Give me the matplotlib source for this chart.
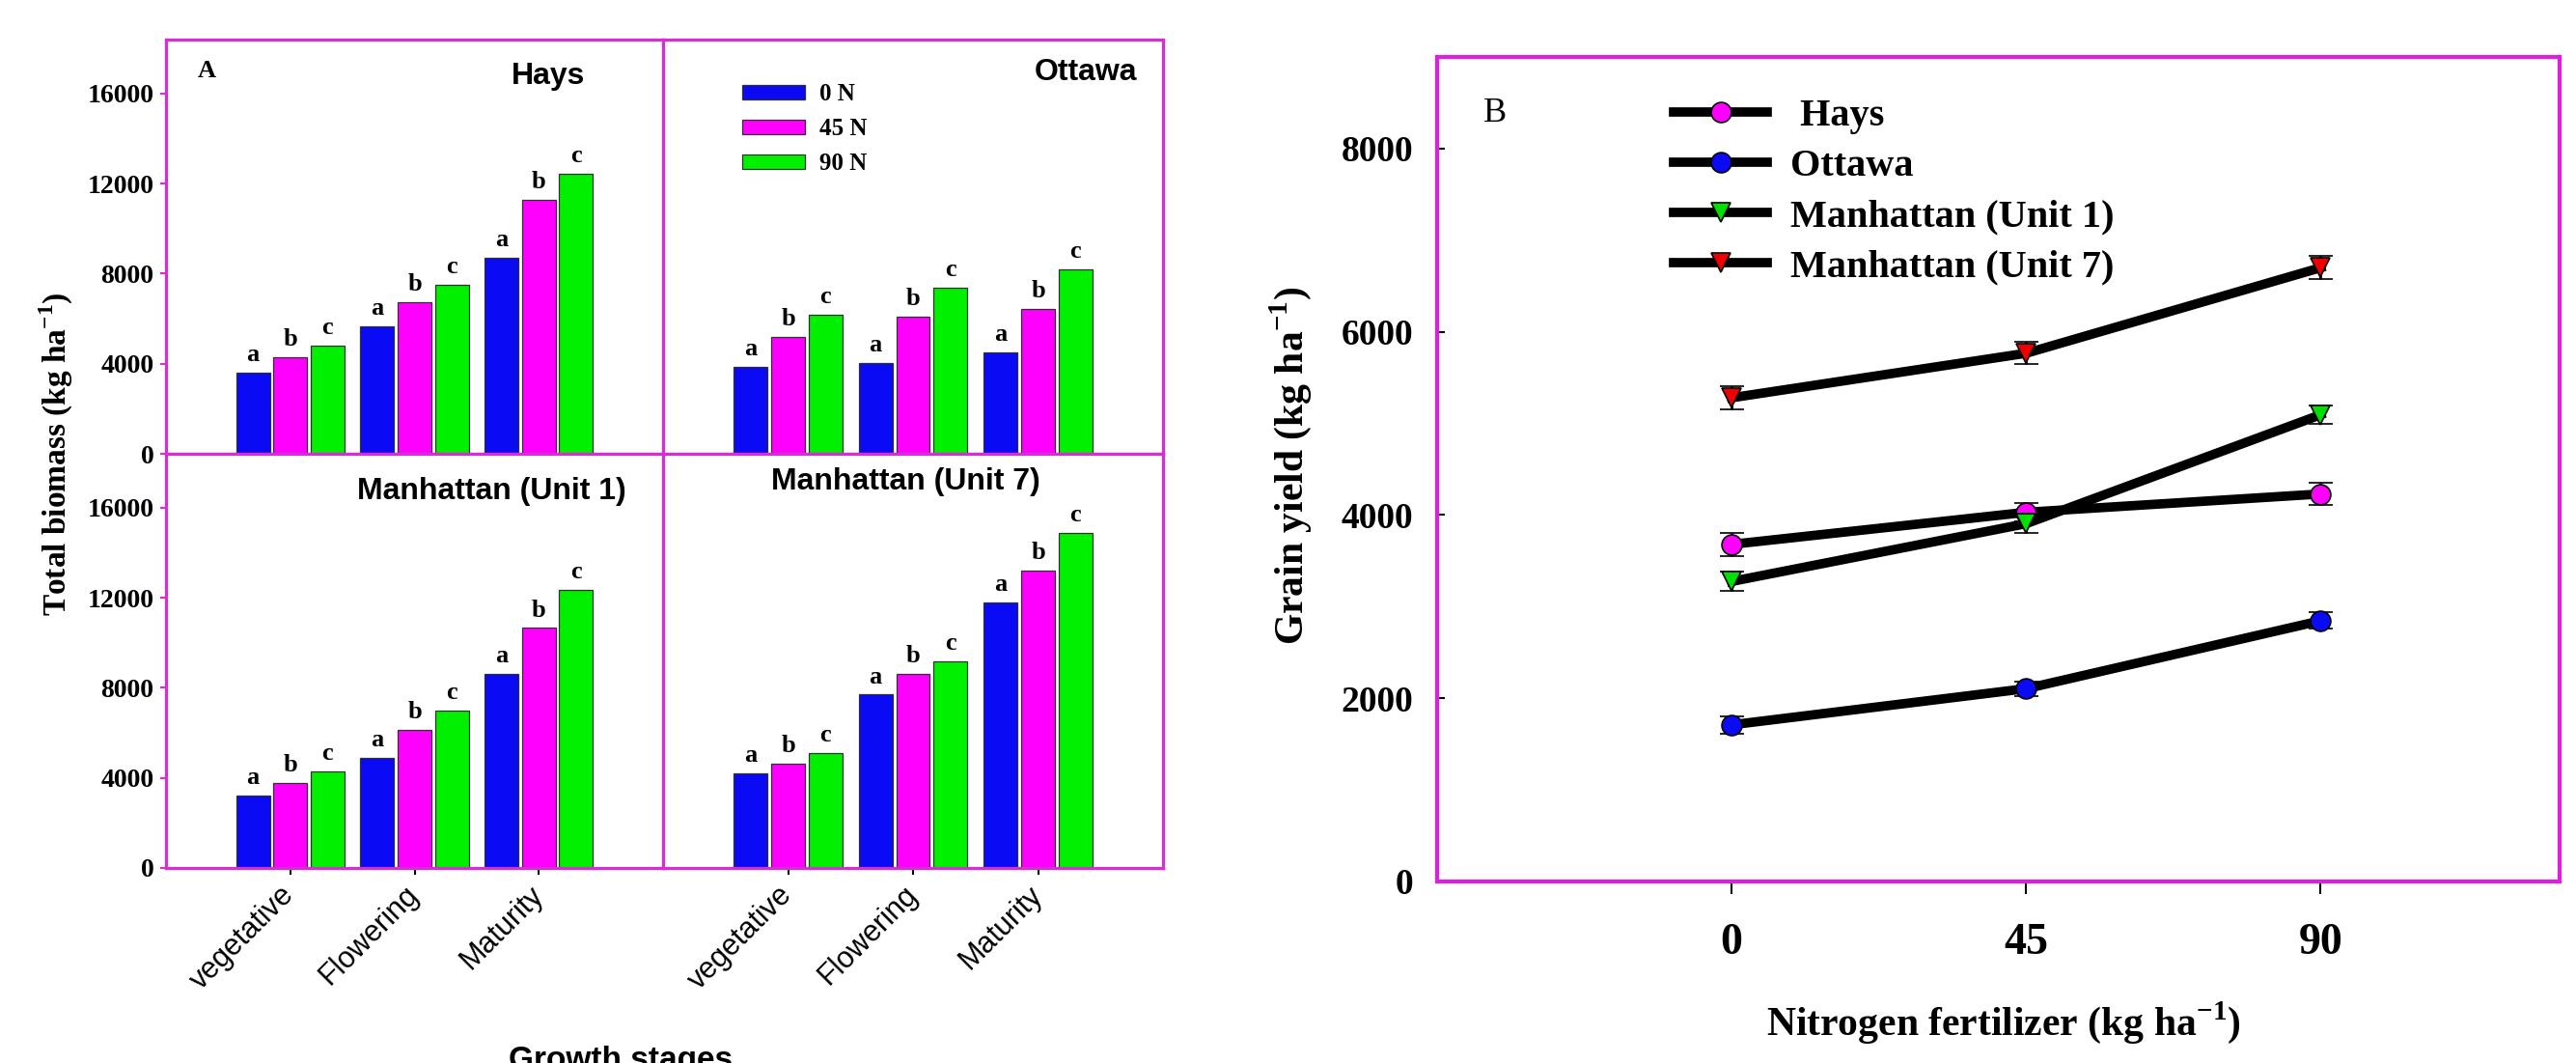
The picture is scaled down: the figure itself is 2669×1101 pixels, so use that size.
import matplotlib
matplotlib.use('Agg')
import matplotlib.pyplot as plt
import numpy as np
from matplotlib.lines import Line2D

plt.rcParams['font.family'] = ['Liberation Serif', 'DejaVu Serif']
plt.rcParams['mathtext.fontset'] = 'custom'
plt.rcParams['mathtext.rm'] = 'Liberation Serif'
plt.rcParams['mathtext.bf'] = 'Liberation Serif:bold'

# ---------------- data ----------------
stages = ['vegetative', 'Flowering', 'Maturity']
treatments = ['0 N', '45 N', '90 N']
letters = ['a', 'b', 'c']
bar_sites = ['Hays', 'Ottawa', 'Manhattan (Unit 1)', 'Manhattan (Unit 7)']

hays_0n = [3600, 5660, 8690]
hays_45n = [4290, 6740, 11290]
hays_90n = [4800, 7490, 12450]
ottawa_0n = [3850, 4030, 4500]
ottawa_45n = [5190, 6080, 6450]
ottawa_90n = [6190, 7390, 8180]
unit1_0n = [3230, 4910, 8610]
unit1_45n = [3790, 6140, 10660]
unit1_90n = [4310, 6980, 12340]
unit7_0n = [4210, 7700, 11810]
unit7_45n = [4630, 8630, 13220]
unit7_90n = [5090, 9200, 14900]

biomass_yticks = [0, 4000, 8000, 12000, 16000]

n_rates = [0, 45, 90]
line_sites = [' Hays', 'Ottawa', 'Manhattan (Unit 1)', 'Manhattan (Unit 7)']
yield_hays = [3680, 4030, 4230]
yield_ottawa = [1710, 2105, 2846]
yield_unit1 = [3275, 3906, 5095]
yield_unit7 = [5280, 5766, 6700]
err_hays = [125, 100, 118]
err_ottawa = [95, 80, 90]
err_unit1 = [105, 100, 100]
err_unit7 = [130, 120, 127]
yield_yticks = [0, 2000, 4000, 6000, 8000]

# ---------------- style ----------------
W, H = 2669, 1101
fig = plt.figure(figsize=(W / 100, H / 100), dpi=100)

bar_colors = ['#0a0af5', '#ff00ff', '#00f000']
border = '#d52ed5'
sans = 'Liberation Sans'


def fx(px):
    return px / W


def fy(py):
    return 1 - py / H


panel_boxes = [
    (172, 41, 687, 470),
    (687, 41, 1205, 470),
    (172, 470, 687, 899),
    (687, 470, 1205, 899),
]
series = [
    (hays_0n, hays_45n, hays_90n),
    (ottawa_0n, ottawa_45n, ottawa_90n),
    (unit1_0n, unit1_45n, unit1_90n),
    (unit7_0n, unit7_45n, unit7_90n),
]
title_pos = [(0.769, 0.911), (0.846, 0.921), (0.656, 0.909), (0.485, 0.933)]

x = np.arange(1, len(stages) + 1)
offsets = [-0.3, 0.0, 0.3]
width = 0.27

axes = []
for i, (box, ser) in enumerate(zip(panel_boxes, series)):
    x0, y0, x1, y1 = box
    ax = fig.add_axes([fx(x0), fy(y1), fx(x1 - x0), (y1 - y0) / H])
    axes.append(ax)
    for k, vals in enumerate(ser):
        ax.bar(x + offsets[k], vals, width, color=bar_colors[k],
               edgecolor='#303030', linewidth=0.9, label=treatments[k], zorder=2)
        for xi, v in zip(x + offsets[k], vals):
            ax.annotate(letters[k], (xi, v), xytext=(0, 5), textcoords='offset points',
                        ha='center', va='bottom', fontsize=19, fontweight='bold')
    ax.set_xlim(0, 4)
    ax.set_ylim(0, 18400)
    for s in ax.spines.values():
        s.set_color(border)
        s.set_linewidth(2.3)
    ax.text(title_pos[i][0], title_pos[i][1], bar_sites[i], transform=ax.transAxes,
            ha='center', va='center', fontsize=23, fontweight='bold', family=sans)
    if i in (0, 2):
        ax.set_yticks(biomass_yticks)
        ax.set_yticklabels([str(t) for t in biomass_yticks], fontsize=20, fontweight='bold')
        ax.tick_params(axis='y', direction='out', length=4, width=1.5, color=border, pad=5)
    else:
        ax.set_yticks([])
    if i in (2, 3):
        ax.set_xticks(x)
        ax.set_xticklabels(stages, rotation=45, ha='right', va='center',
                           rotation_mode='anchor', fontsize=22, family=sans)
        ax.tick_params(axis='x', direction='out', length=5, width=1.5, color='black', pad=12)
    else:
        ax.set_xticks([])

axes[0].text(0.064, 0.925, 'A', transform=axes[0].transAxes, ha='left', va='center',
             fontsize=19, fontweight='bold')
axes[1].legend(loc='upper left', bbox_to_anchor=(0.158, 0.894), frameon=False,
               prop={'weight': 'bold', 'size': 18},
               handlelength=2.6, handleheight=0.5, handletextpad=0.6,
               labelspacing=0.52, borderaxespad=0, borderpad=0)

fig.text(fx(58), fy(470), 'Total biomass (kg ha$^{\\mathbf{-1}}$)', rotation=90,
         ha='center', va='center', fontsize=24, fontweight='bold')
fig.text(fx(643), fy(1083), 'Growth stages', ha='center', va='top',
         fontsize=24, fontweight='bold', family=sans)

# ---------------- panel B ----------------
axb = fig.add_axes([fx(1489), fy(913), fx(2652 - 1489), (913 - 59) / H])
line_data = [yield_hays, yield_ottawa, yield_unit1, yield_unit7]
line_err = [err_hays, err_ottawa, err_unit1, err_unit7]
mcolors = ['#ff00ff', '#0a0af5', '#00e000', '#ee0000']
markers = ['o', 'o', 'v', 'v']
handles = []
for vals, err, mc, mk, lab in zip(line_data, line_err, mcolors, markers, line_sites):
    axb.errorbar(n_rates, vals, yerr=err, color='black', lw=7, marker=mk, ms=15,
                 mfc=mc, mec='black', mew=1.2, ecolor='black', elinewidth=2,
                 capsize=9, capthick=2.5, zorder=3)
    handles.append(Line2D([], [], color='black', lw=7, marker=mk, ms=15, mfc=mc,
                          mec='black', mew=1.2, label=lab))
axb.set_xlim(-45, 126.5)
axb.set_ylim(0, 9000)
axb.set_xticks(n_rates)
axb.set_xticklabels([str(n) for n in n_rates], fontsize=33, fontweight='bold')
axb.set_yticks(yield_yticks)
axb.set_yticklabels([str(t) for t in yield_yticks], fontsize=27, fontweight='bold')
axb.tick_params(axis='x', direction='out', length=9, width=1.5, color='black', pad=22)
axb.tick_params(axis='y', direction='in', length=6, width=1.5, color='black', pad=18)
for s in axb.spines.values():
    s.set_color('#e01ee0')
    s.set_linewidth(3)
axb.legend(handles=handles, loc='upper left', bbox_to_anchor=(0.211, 0.95),
           frameon=False, prop={'weight': 'bold', 'size': 29},
           handlelength=2.4, handletextpad=0.6, labelspacing=0.37,
           borderaxespad=0, borderpad=0)
axb.text(0.041, 0.932, 'B', transform=axb.transAxes, ha='left', va='center', fontsize=26)
fig.text(fx(1337), fy(482), 'Grain yield (kg ha$^{\\mathbf{-1}}$)', rotation=90,
         ha='center', va='center', fontsize=30, fontweight='bold')
fig.text(fx(2076), fy(1072), 'Nitrogen fertilizer (kg ha$^{\\mathbf{-1}}$)',
         ha='center', va='baseline', fontsize=30, fontweight='bold')

fig.savefig('out.png', dpi=100)
